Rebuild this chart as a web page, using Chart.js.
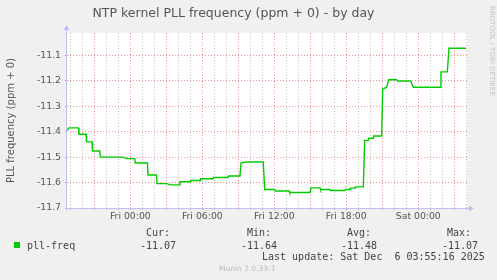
<!DOCTYPE html>
<html>
<head>
<meta charset="utf-8">
<script src="https://cdn.jsdelivr.net/npm/chart.js@4.4.1/dist/chart.umd.min.js"></script>
<style>
    html, body { margin: 0; padding: 0; background: #f0f0f0; }
    #wrap { position: relative; width: 497px; height: 280px; overflow: hidden; }
    .lg { position: absolute; font: 10px 'DejaVu Sans Mono', monospace; color: #444; line-height: 12px; white-space: pre; }
    #swatch { position: absolute; left: 14px; top: 242px; width: 6px; height: 6px; background: #00cc00; }
    #munin { position: absolute; left: 219px; top: 264px; font: 7.5px 'DejaVu Sans', sans-serif; color: #bbb; white-space: pre; }
    #rrd { position: absolute; left: 488px; top: 6px; writing-mode: vertical-rl; font: 7px 'DejaVu Sans', sans-serif; color: #c4c4c4; white-space: pre; }
</style>
</head>
<body>
<div id="wrap">
    <canvas id="chart" width="497" height="280"></canvas>
    <div id="swatch"></div>
    <div class="lg" id="serie" style="left:27px;top:240px"></div>
    <div id="stats"></div>
    <div class="lg" id="update" style="left:262px;top:251px"></div>
    <div id="munin">Munin 2.0.33-1</div>
    <div id="rrd">RRDTOOL / TOBI OETIKER</div>
</div>
<script>
// heures depuis Fri 00:00
const hours = [-5.27, -5.11, -4.32, -4.28, -3.69, -3.65, -3.19, -3.15, -2.55, -2.50,
    -0.63, -0.30, 0.37, 0.41, 1.43, 1.48, 2.18, 2.23, 3.03, 3.31,
    4.08, 4.14, 4.98, 5.02, 5.81, 5.85, 6.89, 6.93, 8.14, 8.18,
    9.14, 9.23, 9.64, 11.08, 11.20, 12.03, 12.08, 13.25, 13.29, 14.98,
    15.06, 15.81, 15.85, 16.64, 16.68, 17.89, 17.93, 18.31, 18.35, 18.73,
    18.77, 19.42, 19.53, 19.81, 19.85, 20.23, 20.27, 20.95, 21.03, 21.37,
    21.53, 22.20, 22.28, 23.37, 23.58, 25.81, 25.89, 26.42, 26.56, 27.98];
const pllFreq = [-11.395, -11.385, -11.385, -11.41, -11.41, -11.44, -11.44, -11.476, -11.476, -11.5,
    -11.5, -11.506, -11.506, -11.523, -11.523, -11.57, -11.57, -11.604, -11.604, -11.609,
    -11.609, -11.597, -11.597, -11.592, -11.592, -11.585, -11.585, -11.58, -11.58, -11.574,
    -11.574, -11.523, -11.519, -11.519, -11.627, -11.627, -11.633, -11.633, -11.639, -11.639,
    -11.621, -11.621, -11.627, -11.627, -11.631, -11.631, -11.627, -11.627, -11.622, -11.622,
    -11.617, -11.617, -11.434, -11.434, -11.426, -11.426, -11.417, -11.417, -11.233, -11.225,
    -11.196, -11.196, -11.201, -11.201, -11.225, -11.225, -11.165, -11.165, -11.072, -11.072];

const yTicks = [-11.7, -11.6, -11.5, -11.4, -11.3, -11.2, -11.1];
const xLabelHours = [0, 6, 12, 18, 24];
const xLabels = ['Fri 00:00', 'Fri 06:00', 'Fri 12:00', 'Fri 18:00', 'Sat 00:00'];

const statNames = ['Cur:', 'Min:', 'Avg:', 'Max:'];
const statValues = ['-11.07', '-11.64', '-11.48', '-11.07'];
const statLeft = [146, 247, 347, 447];
const valueLeft = [140, 241, 341, 442];

// ======= légende texte =======
document.getElementById('serie').textContent = 'pll-freq';
document.getElementById('update').textContent = 'Last update: Sat Dec  6 03:55:16 2025';
const statsDiv = document.getElementById('stats');
statNames.forEach((name, i) => {
    const h = document.createElement('div');
    h.className = 'lg';
    h.style.left = statLeft[i] + 'px';
    h.style.top = '227px';
    h.textContent = name;
    statsDiv.appendChild(h);
    const v = document.createElement('div');
    v.className = 'lg';
    v.style.left = valueLeft[i] + 'px';
    v.style.top = '240px';
    v.textContent = statValues[i];
    statsDiv.appendChild(v);
});

const RED = 'rgba(240,110,110,0.75)';
const GRAY = '#c4c4c4';
const AXIS = '#c0c0f4';

// fond blanc + axes avec flèches
const rrdLook = {
    id: 'rrdLook',
    beforeDraw(chart) {
        const a = chart.chartArea, ctx = chart.ctx;
        ctx.save();
        ctx.fillStyle = '#ffffff';
        ctx.fillRect(a.left, a.top, a.right - a.left, a.bottom - a.top);
        ctx.restore();
    },
    afterDraw(chart) {
        const a = chart.chartArea, ctx = chart.ctx;
        ctx.save();
        ctx.setLineDash([]);
        ctx.strokeStyle = AXIS;
        ctx.fillStyle = AXIS;
        ctx.lineWidth = 1;
        ctx.beginPath();
        ctx.moveTo(a.left - 0.5, a.bottom + 2);
        ctx.lineTo(a.left - 0.5, a.top - 4);
        ctx.moveTo(a.left - 2, a.bottom + 0.5);
        ctx.lineTo(a.right + 2, a.bottom + 0.5);
        ctx.stroke();
        ctx.beginPath();
        ctx.moveTo(a.left - 3.5, a.top - 3);
        ctx.lineTo(a.left + 2.5, a.top - 3);
        ctx.lineTo(a.left - 0.5, a.top - 8);
        ctx.closePath();
        ctx.fill();
        ctx.beginPath();
        ctx.moveTo(a.right + 2, a.bottom - 2.5);
        ctx.lineTo(a.right + 2, a.bottom + 3.5);
        ctx.lineTo(a.right + 7, a.bottom + 0.5);
        ctx.closePath();
        ctx.fill();
        ctx.restore();
    }
};

const tickFont = { family: 'DejaVu Sans', size: 9.3 };

new Chart(document.getElementById('chart').getContext('2d'), {
    type: 'line',
    data: {
        datasets: [{
            label: 'pll-freq',
            data: hours.map((h, i) => ({ x: h, y: pllFreq[i] })),
            borderColor: '#00cc00',
            borderWidth: 1.4,
            pointRadius: 0,
            tension: 0,
        }],
    },
    options: {
        responsive: false,
        animation: false,
        devicePixelRatio: 1,
        layout: { padding: { left: 0, right: 30, top: 0, bottom: 52 } },
        plugins: {
            legend: { display: false },
            tooltip: { enabled: false },
            title: {
                display: true,
                text: 'NTP kernel PLL frequency (ppm + 0) - by day',
                color: '#555',
                font: { family: 'DejaVu Sans', size: 12.5, weight: 'normal' },
                padding: { top: 6, bottom: 12 },
            },
        },
        scales: {
            x: {
                type: 'linear',
                min: -5.275,
                max: 28.06,
                afterBuildTicks: s => { s.ticks = []; for (let h = -5; h <= 28; h++) s.ticks.push({ value: h }); },
                afterFit: s => { s.height = 20; },
                ticks: {
                    autoSkip: false,
                    maxRotation: 0,
                    padding: 1,
                    color: '#555',
                    font: tickFont,
                    callback: v => { const i = xLabelHours.indexOf(v); return i >= 0 ? xLabels[i] : ''; },
                },
                grid: {
                    color: c => (c.tick && c.tick.value % 3 === 0 ? RED : GRAY),
                    tickColor: c => (c.tick && c.tick.value % 3 === 0 ? RED : GRAY),
                    tickLength: 2,
                    lineWidth: 1,
                },
                border: { display: false, dash: [1, 2] },
            },
            y: {
                min: -11.7,
                max: -11.012,
                afterBuildTicks: s => { s.ticks = yTicks.map(v => ({ value: v })); },
                afterFit: s => { s.width = 67; },
                title: {
                    display: true,
                    text: 'PLL frequency (ppm + 0)',
                    color: '#555',
                    font: { family: 'DejaVu Sans', size: 10 },
                    padding: { top: 5, bottom: 0 },
                },
                ticks: {
                    padding: 4,
                    color: '#555',
                    font: tickFont,
                    callback: v => v.toFixed(1),
                },
                grid: { color: RED, tickColor: RED, tickLength: 2, lineWidth: 1 },
                border: { display: false, dash: [1, 2] },
            },
        },
    },
    plugins: [rrdLook],
});
</script>
</body>
</html>
